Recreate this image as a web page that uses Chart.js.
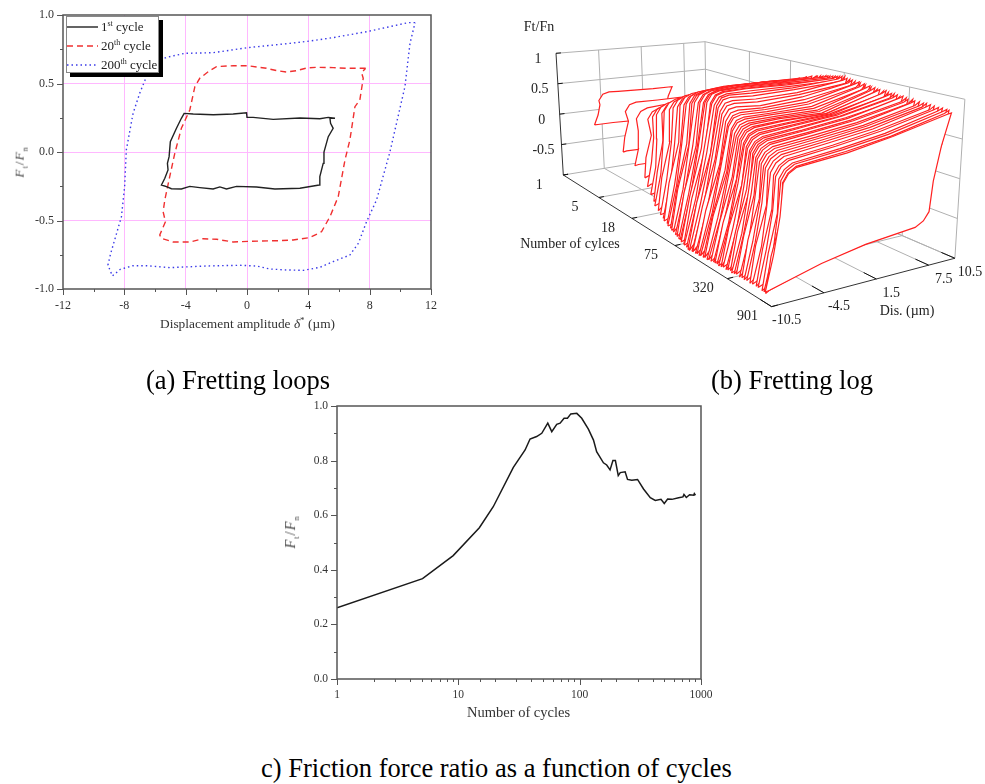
<!DOCTYPE html>
<html>
<head>
<meta charset="utf-8">
<title>Fretting results</title>
<script src="https://cdn.jsdelivr.net/npm/chart.js@4/dist/chart.umd.min.js"></script>
<style>
body { margin: 0; background: #fff; font-family: "Liberation Serif", serif; color: #222; }
#page { position: relative; width: 985px; height: 784px; overflow: hidden; }
canvas { position: absolute; }
.txt { position: absolute; white-space: nowrap; line-height: 1; }
.cap { font-size: 26.5px; color: #000; }
.ax { font-size: 13.4px; color: #333; }
.ax2 { font-size: 14.5px; }
.rot { transform: translate(-50%, -50%) rotate(-90deg); letter-spacing: 1px; color: #444; }
.ax sub { font-size: 8px; }
.ax sup { font-size: 9px; line-height: 0; }
</style>
</head>
<body>
<div id="page">
  <canvas id="loopsChart" width="450" height="340" style="left:0;top:0"></canvas>
  <canvas id="logChart" width="475" height="330" style="left:510px;top:10px"></canvas>
  <canvas id="ratioChart" width="440" height="340" style="left:280px;top:390px"></canvas>

  <div class="txt ax rot" style="left:21px;top:162px"><i>F</i><sub>t</sub>/<i>F</i><sub>n</sub></div>
  <div class="txt ax" style="left:160px;top:317px">Displacement amplitude <i>&delta;</i><sup>*</sup> (&micro;m)</div>
  <div class="txt ax ax2 rot" style="left:292px;top:532px"><i>F</i><sub>t</sub>/<i>F</i><sub>n</sub></div>
  <div class="txt ax ax2" style="left:467px;top:705px">Number of cycles</div>

  <div class="txt cap" style="left:146px;top:367px">(a) Fretting loops</div>
  <div class="txt cap" style="left:711px;top:367px">(b) Fretting log</div>
  <div class="txt cap" style="left:261px;top:755px">c) Friction force ratio as a function of cycles</div>
</div>

<script>
// (a) fretting loops
const loop1Dis = [5.74,5.3,4.75,3.45,1.71,.4,0,-.03,-.9,-2.2,-3.51,-4.1,-4.28,-4.6,-5,-5.08,-5.19,-5.15,-5.36,-5.58,-5.25,-4.93,-4.28,-3.73,-3.08,-2.21,-1.77,-1.34,-.68,.62,1.82,3.45,4.71,4.75,4.97,5.02,5.3,5.62,5.45,5.41,5.74];
const loop1Ratio = [.246,.253,.243,.248,.238,.253,.253,.287,.277,.272,.277,.282,.246,.173,.075,-.034,-.083,-.131,-.192,-.241,-.253,-.268,-.27,-.251,-.26,-.27,-.255,-.27,-.251,-.255,-.27,-.265,-.241,-.18,-.083,0,.112,.173,.209,.246,.246];
const loop20Dis = [7.74,6.5,5.62,4.54,3.88,3.23,2.58,1.93,1.27,0,-.9,-1.99,-2.53,-3.08,-3.4,-3.73,-4.28,-4.71,-5.04,-5.36,-5.47,-5.32,-5.69,-5.58,-4.82,-3.73,-2.86,-1.99,-.9,.18,2.14,3.01,4.1,4.86,5.41,5.95,6.39,6.71,7.04,7.36,7.58,7.47,7.74];
const loop20Ratio = [.611,.611,.616,.618,.613,.594,.584,.594,.611,.63,.63,.623,.586,.538,.477,.307,.173,-.01,-.18,-.35,-.436,-.509,-.606,-.63,-.657,-.657,-.633,-.637,-.657,-.652,-.647,-.642,-.625,-.582,-.472,-.326,-.058,.088,.331,.38,.538,.579,.611];
const loop200Dis = [10.96,10.5,9.32,7.8,5.62,4.1,2.8,.07,-2.2,-4.06,-5.25,-5.9,-6.56,-7,-7.43,-7.87,-7.98,-8.19,-8.63,-8.89,-9.07,-8.78,-8.26,-7.43,-6.56,-5.04,-2.64,-.47,.62,1.49,2.58,3.67,4.75,5.62,6.71,7.26,7.8,8.45,9.32,10.3,10.63,10.96];
const loop200Ratio = [.944,.944,.915,.878,.835,.81,.793,.762,.725,.72,.691,.66,.55,.428,.282,.015,-.253,-.472,-.642,-.74,-.825,-.905,-.856,-.83,-.83,-.844,-.832,-.827,-.832,-.854,-.861,-.864,-.842,-.8,-.752,-.667,-.508,-.35,0,.477,.793,.944];
const loopNames = [['1','st',' cycle'],['20','th',' cycle'],['200','th',' cycle']];

// (c) friction force ratio
const ratioCycles = [1,5.07,9.07,14.9,19.4,28.4,35.5,39,44.2,48.7,54.6,58.9,64.7,69,74.4,79.3,84.5,94.7,104,118,130,138,157,167,178,188,197,208,216,237,248,269,300,336,382,420,468,498,531,576,654,710,724,757,805,871,881,900];
const ratioValues = [.261,.3675,.452,.554,.631,.775,.839,.879,.888,.9,.937,.906,.933,.937,.955,.955,.971,.973,.955,.915,.875,.833,.792,.784,.766,.8,.8,.745,.756,.759,.731,.728,.731,.696,.664,.654,.658,.643,.659,.658,.664,.667,.676,.665,.675,.673,.679,.673];

// (b) fretting log, one row per recorded cycle
const logCycles = [1,5,9,14,17,20,24,26,30,33,
  37,39,43,45,49,52,55,60,63,68,
  71,75,81,84,90,96,100,108,113,122,
  128,138,144,155,162,176,184,196,210,218,
  235,245,262,275,296,310,332,348,372,392,
  422,448,482,512,552,585,638,680,742,790,835,860];
const logDisLeft = [-5.6,-6.9,-7.4,-7.7,-8.1,-8.3,-8.6,-8.8,-8.9,-9,
  -9.1,-9.2,-9.2,-9.3,-9.3,-9.4,-9.4,-9.5,-9.5,-9.6,
  -9.6,-9.7,-9.7,-9.8,-9.8,-9.9,-9.9,-9.9,-10,-10,
  -10,-10.1,-10.1,-10.1,-10.1,-10.2,-10.2,-10.2,-10.2,-10.2,
  -10.3,-10.3,-10.3,-10.3,-10.3,-10.3,-10.3,-10.4,-10.4,-10.4,
  -10.4,-10.4,-10.5,-10.5,-10.5,-10.5,-10.5,-10.6,-10.6,-10.7,-10.8,-11];
const logDisKnee = [-4,-5.6,-6.2,-6.3,-6.4,-6.5,-6.5,-6.5,-6.4,-6.3,
  -6.2,-6.1,-6,-5.9,-5.8,-5.8,-5.7,-5.6,-5.6,-5.5,
  -5.5,-5.5,-5.4,-5.4,-5.4,-5.4,-5.4,-5.5,-5.5,-5.6,
  -5.6,-5.7,-5.8,-5.8,-5.9,-6,-6,-6.1,-6.2,-6.2,
  -6.3,-6.4,-6.5,-6.6,-6.7,-6.8,-6.9,-7,-7.1,-7.2,
  -7.3,-7.4,-7.5,-7.6,-7.7,-7.7,-7.8,-7.9,-8,-8.1,-8.2,-8.3];
const logDisRight = [5.7,6.9,7.3,7.6,8,8.2,8.4,8.6,8.8,8.9,
  9,9,9.1,9,9.1,9,9.1,9,9.1,9,
  9,9.1,9,9.1,9,9,9.1,9,9.1,9,
  9.1,9.2,9.1,9.2,9.1,9.2,9.1,9.2,9.1,9.2,
  9.2,9.3,9.2,9.3,9.2,9.3,9.2,9.3,9.3,9.2,
  9.3,9.2,9.3,9.4,9.3,9.4,9.3,9.4,9.3,9.4,9.3,9.4];
const logEnd = [.25,.37,.45,.53,.61,.68,.73,.77,.8,.83,
  .85,.87,.88,.9,.91,.92,.93,.94,.95,.96,
  .96,.97,.98,.98,.99,1,1,.99,.98,.98,
  .97,.97,.96,.96,.95,.95,.94,.94,.93,.93,
  .92,.93,.92,.91,.92,.91,.9,.91,.9,.89,
  .9,.89,.89,.88,.89,.88,.88,.87,.88,.87,.87,.84];
const logKnee = [.28,.38,.38,.45,.52,.58,.63,.68,.72,.76,
  .79,.82,.84,.86,.88,.89,.91,.92,.93,.94,
  .95,.96,.96,.96,.95,.95,.93,.9,.87,.84,
  .8,.78,.76,.74,.72,.71,.69,.68,.67,.66,
  .65,.64,.63,.62,.61,.6,.6,.59,.58,.57,
  .56,.55,.54,.53,.52,.51,.5,.5,.49,.49,.48,.48];
const logPlateauA = [.27,.37,.42,.5,.58,.64,.69,.74,.78,.82,
  .85,.87,.89,.91,.92,.93,.95,.96,.97,.97,
  .97,.97,.97,.97,.95,.93,.9,.87,.84,.8,
  .78,.77,.75,.74,.73,.72,.71,.71,.7,.7,
  .69,.69,.68,.68,.67,.67,.66,.66,.65,.65,
  .64,.63,.63,.62,.62,.61,.6,.6,.59,.59,.58,.57];
const logPlateauB = [.25,.37,.45,.54,.62,.68,.72,.76,.8,.83,
  .85,.87,.89,.9,.92,.93,.94,.95,.96,.96,
  .96,.96,.96,.95,.94,.93,.91,.88,.86,.84,
  .81,.79,.77,.75,.73,.72,.71,.7,.7,.71,
  .72,.72,.73,.73,.73,.74,.73,.73,.72,.72,
  .71,.71,.7,.7,.7,.69,.69,.69,.68,.68,.67,.67];
const logFlankJog = [.1,-.1,.2,-.2,.1,.2,-.1,.2,-.2,.1,
  .2,-.2,.1,.2,-.1,-.2,.2,.1,-.2,.1,
  .2,-.1,-.2,.2,.1,-.2,.1,.2,-.1,.2,
  -.2,.1,.2,-.1,-.2,.1,.2,-.1,.1,-.2,
  .2,.1,-.2,.1,.2,-.1,-.2,.2,.1,-.1,
  .2,-.2,.1,.1,-.2,.2,-.1,.1,-.1,.2,-.2,.1];
const logNotch = [0,.01,.01,.02,.03,.01,.04,.02,.04,.01,
  .03,.02,.04,.01,.04,.02,.05,.02,.04,.01,
  .05,.02,.04,.02,.05,.03,.06,.02,.05,.03,
  .05,.02,.05,.03,.06,.02,.05,.03,.05,.02,
  .05,.03,.06,.02,.05,.03,.05,.02,.04,.03,
  .05,.02,.04,.03,.04,.02,.04,.02,.03,.02,.03,.01];

const logCycleTicks = [1,5,18,75,320,901];
const logDisTicks = [-10.5,-4.5,1.5,7.5,10.5];
const logRatioTicks = [1,.5,0,-.5,-1];

const serif = '"Liberation Serif", serif';
const frameColor = '#555';

function zip(xs, ys) {
    return xs.map((x, i) => ({ x: x, y: ys[i] }));
}

// frame and outward ticks, the library can't do two tick lengths
const framePlugin = {
    id: 'frameTicks',
    afterDatasetsDraw(chart) {
        const ctx = chart.ctx, a = chart.chartArea;
        ctx.save();
        ctx.strokeStyle = frameColor;
        ctx.lineWidth = 1;
        chart.scales.x.ticks.forEach(t => {
            const px = Math.round(chart.scales.x.getPixelForValue(t.value)) + .5;
            ctx.beginPath();
            ctx.moveTo(px, a.bottom);
            ctx.lineTo(px, a.bottom + (t.label ? 6 : 3));
            ctx.stroke();
        });
        chart.scales.y.ticks.forEach(t => {
            const py = Math.round(chart.scales.y.getPixelForValue(t.value)) + .5;
            ctx.beginPath();
            ctx.moveTo(a.left, py);
            ctx.lineTo(a.left - (t.label ? 6 : 3), py);
            ctx.stroke();
        });
        ctx.lineWidth = 1.5;
        ctx.strokeRect(a.left, a.top, a.right - a.left, a.bottom - a.top);
        ctx.restore();
    }
};

// legend box of panel a, needs superscripts and a hard shadow
const loopLegend = {
    id: 'loopLegend',
    afterDraw(chart) {
        const ctx = chart.ctx;
        ctx.save();
        ctx.fillStyle = '#000';
        ctx.fillRect(70, 20, 93, 57);
        ctx.fillStyle = '#fff';
        ctx.fillRect(66, 16, 93, 57);
        ctx.strokeStyle = '#888';
        ctx.lineWidth = 1;
        ctx.strokeRect(66.5, 16.5, 92, 56);
        loopNames.forEach((name, i) => {
            const ds = chart.data.datasets[i];
            const y = 27 + i * 19;
            ctx.strokeStyle = ds.borderColor;
            ctx.lineWidth = ds.borderWidth;
            ctx.setLineDash(ds.borderDash || []);
            ctx.beginPath();
            ctx.moveTo(67, y);
            ctx.lineTo(98, y);
            ctx.stroke();
            ctx.setLineDash([]);
            ctx.fillStyle = '#222';
            ctx.textBaseline = 'alphabetic';
            let x = 101;
            ctx.font = '13px ' + serif;
            ctx.fillText(name[0], x, y + 4);
            x += ctx.measureText(name[0]).width;
            ctx.font = '8px ' + serif;
            ctx.fillText(name[1], x, y - 1);
            x += ctx.measureText(name[1]).width;
            ctx.font = '13px ' + serif;
            ctx.fillText(name[2], x, y + 4);
        });
        ctx.restore();
    }
};

new Chart(document.getElementById('loopsChart'), {
    type: 'scatter',
    data: {
        datasets: [
            { data: zip(loop1Dis, loop1Ratio), showLine: true, pointRadius: 0, borderColor: '#222', borderWidth: 1.4 },
            { data: zip(loop20Dis, loop20Ratio), showLine: true, pointRadius: 0, borderColor: '#f03030', borderWidth: 1.4, borderDash: [6, 4] },
            { data: zip(loop200Dis, loop200Ratio), showLine: true, pointRadius: 0, borderColor: '#3a3ae8', borderWidth: 1.4, borderDash: [1.5, 3] }
        ]
    },
    options: {
        responsive: false,
        animation: false,
        layout: { padding: { top: 15, right: 19, left: 0, bottom: 0 } },
        plugins: { legend: { display: false }, tooltip: { enabled: false } },
        scales: {
            x: {
                min: -12, max: 12,
                afterFit: s => { s.height = 51; s.paddingLeft = 0; s.paddingRight = 0; },
                border: { display: false },
                grid: { drawTicks: false, color: c => (c.tick.value % 4 === 0 && Math.abs(c.tick.value) < 12) ? '#ffb8ff' : 'transparent' },
                ticks: { stepSize: 2, autoSkip: false, maxRotation: 0, padding: 10, color: '#333', font: { family: serif, size: 12 },
                    callback: v => v % 4 === 0 ? String(v) : '' }
            },
            y: {
                min: -1, max: 1,
                afterFit: s => { s.width = 63; s.paddingTop = 0; s.paddingBottom = 0; },
                border: { display: false },
                grid: { drawTicks: false, color: c => (Math.abs(c.tick.value) < .9 && Math.round(c.tick.value * 100) % 50 === 0) ? '#ffb8ff' : 'transparent' },
                ticks: { stepSize: .25, autoSkip: false, padding: 9, color: '#333', font: { family: serif, size: 12 },
                    callback: v => Math.round(v * 100) % 50 === 0 ? v.toFixed(1) : '' }
            }
        }
    },
    plugins: [framePlugin, loopLegend]
});

new Chart(document.getElementById('ratioChart'), {
    type: 'scatter',
    data: {
        datasets: [{ data: zip(ratioCycles, ratioValues), showLine: true, pointRadius: 0, borderColor: '#1a1a1a', borderWidth: 1.5 }]
    },
    options: {
        responsive: false,
        animation: false,
        layout: { padding: { top: 16, right: 19, left: 0, bottom: 0 } },
        plugins: { legend: { display: false }, tooltip: { enabled: false } },
        scales: {
            x: {
                type: 'logarithmic',
                min: 1, max: 1000,
                afterFit: s => { s.height = 51; s.paddingLeft = 0; s.paddingRight = 0; },
                border: { display: false },
                grid: { display: true, drawOnChartArea: false, drawTicks: false },
                ticks: { autoSkip: false, maxRotation: 0, padding: 9, color: '#333', font: { family: serif, size: 11.5 },
                    callback: v => [1, 10, 100, 1000].includes(v) ? String(v) : '' }
            },
            y: {
                min: 0, max: 1,
                afterFit: s => { s.width = 57; s.paddingTop = 0; s.paddingBottom = 0; },
                border: { display: false },
                grid: { display: true, drawOnChartArea: false, drawTicks: false },
                ticks: { stepSize: .1, autoSkip: false, padding: 9, color: '#333', font: { family: serif, size: 11.5 },
                    callback: v => Math.round(v * 10) % 2 === 0 ? v.toFixed(1) : '' }
            }
        }
    },
    plugins: [framePlugin]
});

// (b) the box of the 3D view, corners on the canvas: [cycle end][dis end][ratio end]
const boxCorners = [
    [[[53.3, 165], [46, 43.3]], [[196.7, 141.7], [195, 31.7]]],
    [[[261.7, 296.7], [263.3, 119.3]], [[445, 248.3], [455, 89.3]]]
];

function mix(a, b, t) {
    return a + (b - a) * t;
}

// log cycle axis with the foreshortening of the view
function cyclePos(cycle) {
    const t = Math.log10(cycle) / 3;
    return .675 * t / (1 - .34 * t);
}

function project(cycle, dis, ratio) {
    const c = cyclePos(cycle), d = (dis + 10.5) / 21, z = (ratio + 1) / 2;
    const axis = k => mix(
        mix(mix(boxCorners[0][0][0][k], boxCorners[0][0][1][k], z), mix(boxCorners[0][1][0][k], boxCorners[0][1][1][k], z), d),
        mix(mix(boxCorners[1][0][0][k], boxCorners[1][0][1][k], z), mix(boxCorners[1][1][0][k], boxCorners[1][1][1][k], z), d),
        c);
    return { x: axis(0), y: axis(1) };
}

const gridColor = '#b0b0b0', axisColor = '#333';
const logDatasets = [];

function addLine(points, color, width) {
    logDatasets.push({ data: points, showLine: true, pointRadius: 0, borderColor: color, borderWidth: width, clip: false });
}

// walls and floor
const firstCycle = logCycleTicks[0], lastCycle = logCycleTicks[logCycleTicks.length - 1];
logRatioTicks.forEach(r => {
    addLine([project(firstCycle, -10.5, r), project(firstCycle, 10.5, r), project(lastCycle, 10.5, r)], gridColor, 1);
});
logDisTicks.slice(1).forEach(d => {
    addLine([project(firstCycle, d, 1), project(firstCycle, d, -1), project(lastCycle, d, -1)], gridColor, 1);
});
logCycleTicks.slice(1, -1).forEach(c => {
    addLine([project(c, -10.5, -1), project(c, 10.5, -1), project(c, 10.5, 1)], gridColor, 1);
});
addLine([project(lastCycle, 10.5, -1), project(lastCycle, 10.5, 1)], gridColor, 1);

// loops back to front, each one white inside so it hides the ones behind
logCycles.forEach((cycle, i) => {
    const left = logDisLeft[i], right = logDisRight[i], knee = logDisKnee[i], end = logEnd[i];
    const zk = logKnee[i], a = logPlateauA[i], jog = logFlankJog[i];
    const upper = [
        [left, -end],
        [mix(left, knee, .3) + jog, mix(-end, zk, .3)],
        [mix(left, knee, .62) - jog * .7, mix(-end, zk, .62)],
        [knee - .8, zk - .13],
        [knee - .2, zk - .03],
        [knee + .7, mix(zk, a, .3)],
        [-2, a],
        [3, logPlateauB[i]],
        [right - .5, end - logNotch[i]]
    ];
    const lower = upper.map(p => [left + right - p[0], -p[1]]);
    const pts = upper.concat(lower, [upper[0]]).map(p => project(cycle, p[0], p[1]));
    logDatasets.push({
        data: pts, showLine: true, pointRadius: 0, clip: false,
        borderColor: '#ff2020', borderWidth: 1.2, backgroundColor: '#fff', fill: 'shape'
    });
});

// axes on top
addLine([project(firstCycle, -10.5, 1), project(firstCycle, -10.5, -1), project(lastCycle, -10.5, -1), project(lastCycle, 10.5, -1)], axisColor, 1);
logRatioTicks.forEach(r => {
    addLine([project(firstCycle, -10.5, r), project(firstCycle, -9.8, r)], '#111', 1);
});
logCycleTicks.forEach(c => {
    addLine([project(c, -10.5, -1), project(c, -9.8, -1)], '#111', 1);
});
logDisTicks.forEach(d => {
    addLine([project(lastCycle, d, -1), project(700, d, -1)], '#111', 1);
});

const logLabels = {
    id: 'logLabels',
    afterDraw(chart) {
        const ctx = chart.ctx;
        const sx = chart.scales.x, sy = chart.scales.y;
        const text = (s, p, dx, dy) => ctx.fillText(s, sx.getPixelForValue(p.x) + dx, sy.getPixelForValue(p.y) + dy);
        ctx.save();
        ctx.fillStyle = '#222';
        ctx.font = '14px ' + serif;
        ctx.textAlign = 'center';
        ctx.textBaseline = 'middle';
        logRatioTicks.slice(0, -1).forEach(r => text(String(r), project(firstCycle, -10.5, r), -18, 6));
        logCycleTicks.forEach(c => text(String(c), project(c, -10.5, -1), -24, 10));
        logDisTicks.forEach(d => text(String(d), project(lastCycle, d, -1), 15, 14));
        ctx.fillText('Ft/Fn', 29, 17);
        ctx.fillText('Number of cylces', 60, 234);
        ctx.fillText('Dis. (\u00b5m)', 397, 301);
        ctx.restore();
    }
};

new Chart(document.getElementById('logChart'), {
    type: 'scatter',
    data: { datasets: logDatasets.slice().reverse() },
    options: {
        responsive: false,
        animation: false,
        layout: { padding: 0 },
        plugins: { legend: { display: false }, tooltip: { enabled: false } },
        scales: {
            x: { display: false, min: 0, max: 475 },
            y: { display: false, min: 0, max: 330, reverse: true }
        }
    },
    plugins: [logLabels]
});
</script>
</body>
</html>
